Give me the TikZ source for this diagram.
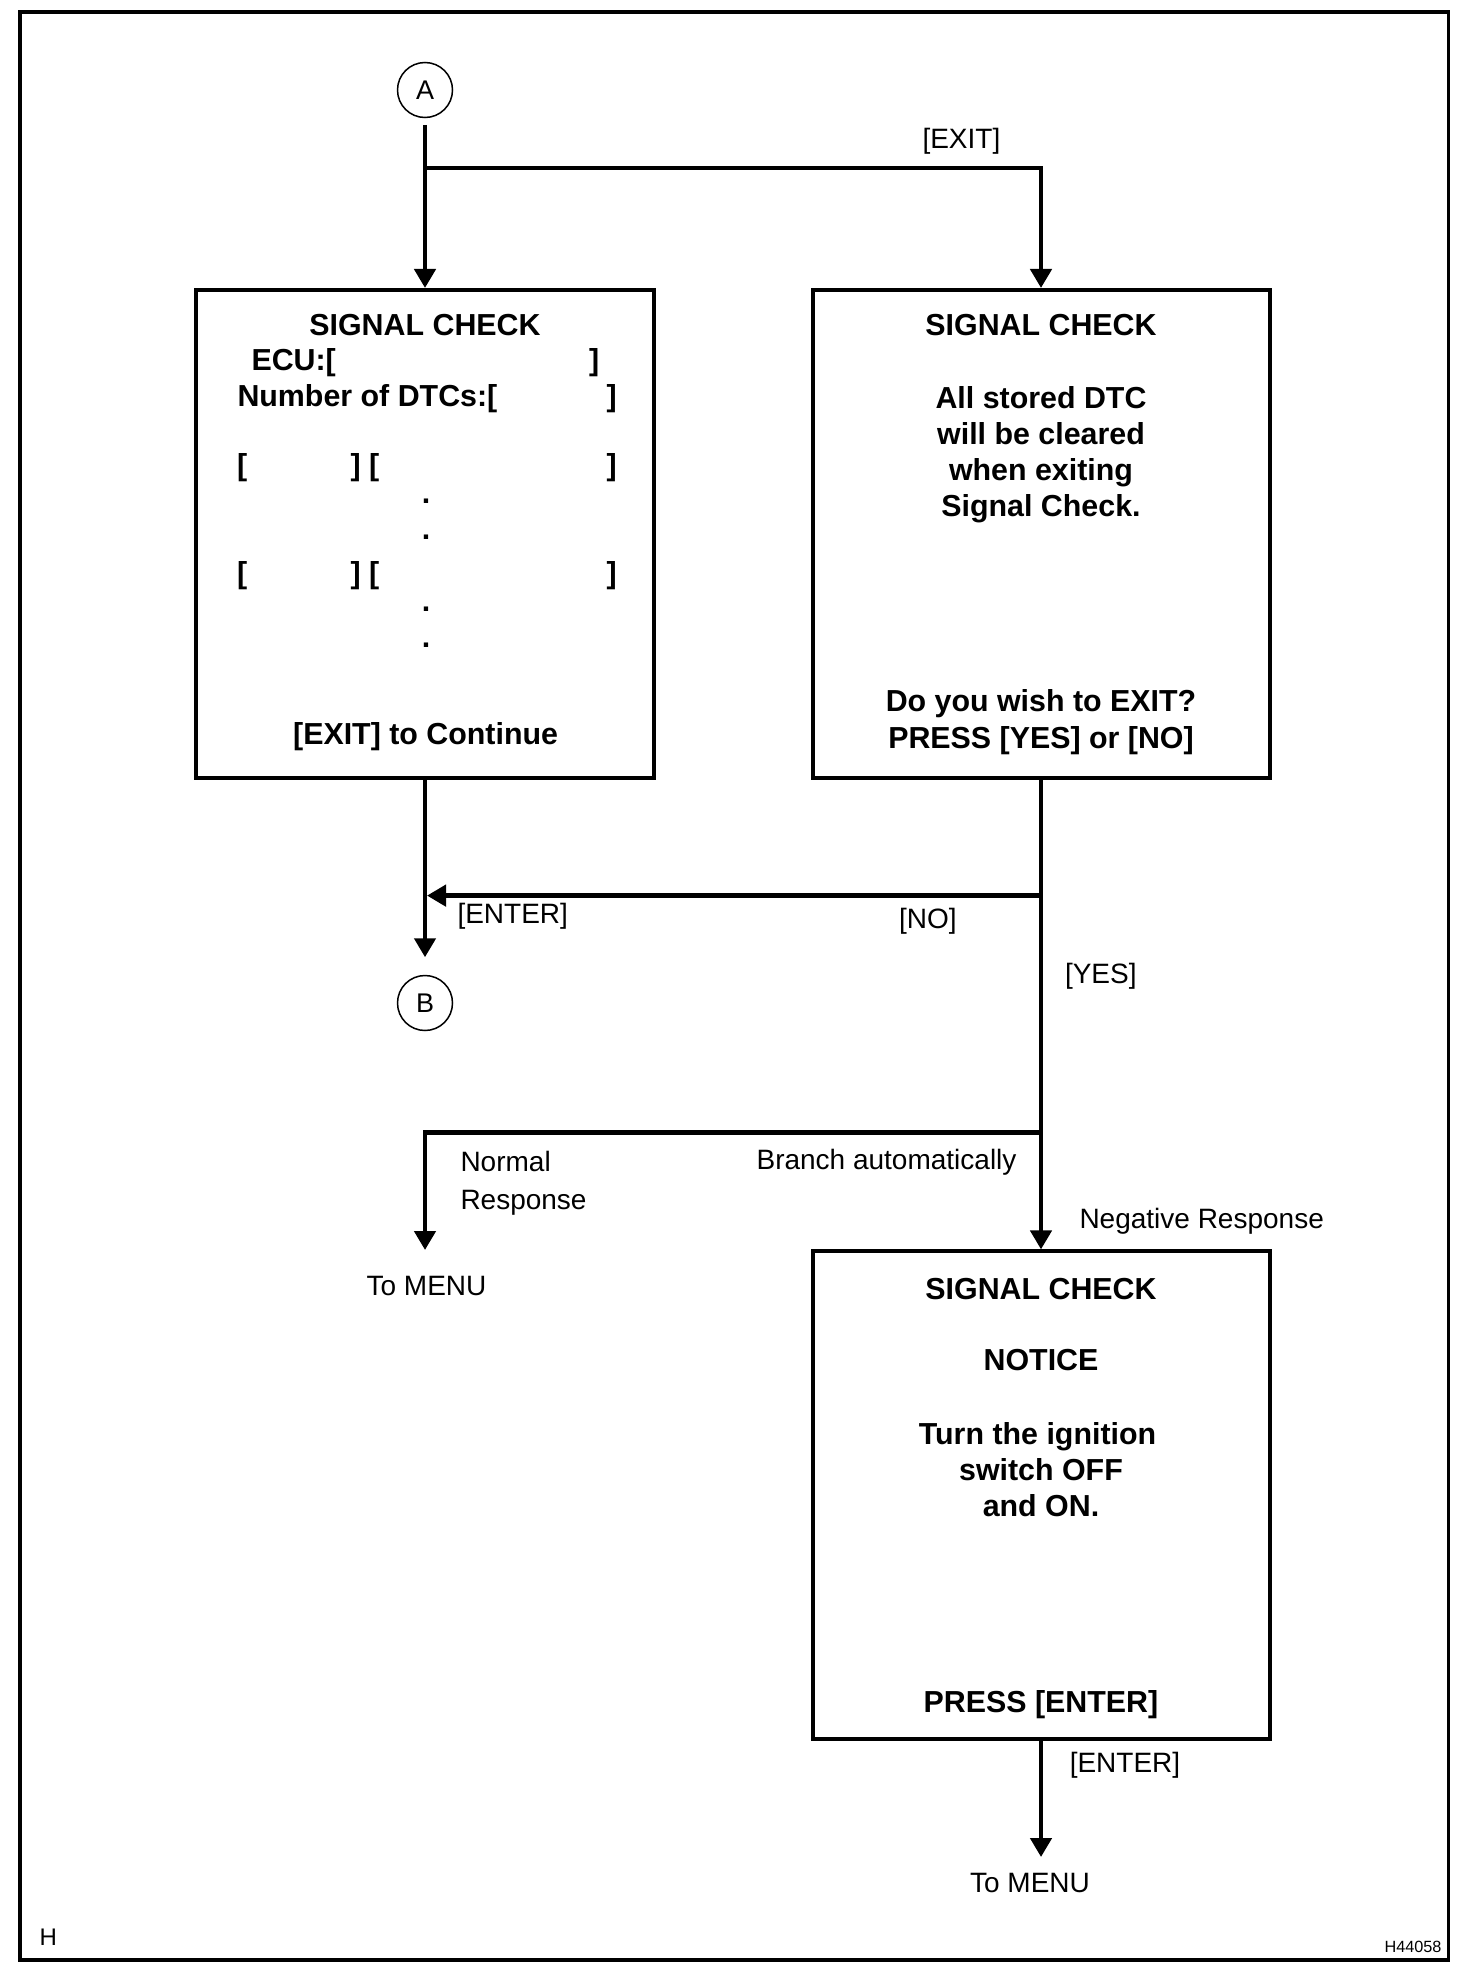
\documentclass[tikz,border=0pt]{standalone}
\usepackage{fontspec}
\setmainfont{Liberation Sans}
\usetikzlibrary{arrows.meta}
\newcommand\boldtxt{\fontsize{12.15}{14.5}\selectfont\bfseries}
\newcommand\regtxt{\fontsize{11.2}{13.4}\selectfont}
\newcommand\circtxt{\fontsize{10.8}{12}\selectfont}
\newcommand\htxt{\fontsize{9.6}{11}\selectfont}
\newcommand\tinytxt{\fontsize{6.5}{8}\selectfont}
\begin{document}
\begin{tikzpicture}[x=0.4pt,y=-0.4pt,
  bt/.style={font=\boldtxt, anchor=base, inner sep=0pt},
  btw/.style={font=\boldtxt, anchor=base west, inner sep=0pt},
  rt/.style={font=\regtxt, anchor=base, inner sep=0pt},
  rtw/.style={font=\regtxt, anchor=base west, inner sep=0pt},
  rte/.style={font=\regtxt, anchor=base east, inner sep=0pt},
  screen/.style={draw, line width=1.6pt, minimum width=182.8pt, minimum height=195.2pt, inner sep=0pt},
  circ/.style={draw, circle, line width=0.6pt, minimum size=22pt, inner sep=0pt, font=\circtxt},
  conn/.style={line width=1.8pt, -{Triangle[width=8.4pt,length=7.6pt]}},
  ]
\useasboundingbox (0,0) rectangle (1472,1986);
\draw[line width=1.5pt] (20,12) rectangle (1448.5,1960);

% nodes
\node[circ] (A) at (425,90) {A};
\node[screen] (b1) at (425,534) {};
\node[screen] (b2) at (1041,534) {};
\node[screen] (b3) at (1041,1495.4) {};
\node[circ] (B) at (425,1003) {B};

% box 1 text
\node[bt] (b1t1) at (425,335) {SIGNAL CHECK};
\node[btw] (b1t2) at (251,370.5) {ECU:[};
\node[btw] (b1t2r) at (588.5,370.5) {]};
\node[btw] (b1t3) at (237,406.5) {Number of DTCs:[};
\node[btw] (b1t3r) at (606,406.5) {]};
\node[btw] (b1r1a) at (236.5,475) {[};
\node[btw] (b1r1b) at (350,475) {] [};
\node[btw] (b1r1c) at (606,475) {]};
\node[bt] (b1d1) at (426,503.3) {.};
\node[bt] (b1d2) at (426,539) {.};
\node[btw] (b1r2a) at (236.5,583.6) {[};
\node[btw] (b1r2b) at (350,583.6) {] [};
\node[btw] (b1r2c) at (606,583.6) {]};
\node[bt] (b1d3) at (426,611.7) {.};
\node[bt] (b1d4) at (426,647.3) {.};
\node[bt] (b1t4) at (425.6,744) {[EXIT] to Continue};

% box 2 text
\node[bt] (b2t1) at (1041,335) {SIGNAL CHECK};
\node[bt] (b2t2) at (1041,408) {All stored DTC};
\node[bt] (b2t3) at (1041,444.3) {will be cleared};
\node[bt] (b2t4) at (1041,480.6) {when exiting};
\node[bt] (b2t5) at (1041,516.9) {Signal Check.};
\node[bt] (b2t6) at (1041,711.5) {Do you wish to EXIT?};
\node[bt] (b2t7) at (1041,748) {PRESS [YES] or [NO]};

% box 3 text
\node[bt] (b3t1) at (1041,1299) {SIGNAL CHECK};
\node[bt] (b3t2) at (1041,1370.7) {NOTICE};
\node[bt] (b3t3) at (1037.5,1444) {Turn the ignition};
\node[bt] (b3t4) at (1041,1480) {switch OFF};
\node[bt] (b3t5) at (1041,1516) {and ON.};
\node[bt] (b3t6) at (1041,1712) {PRESS [ENTER]};

% coordinates
\coordinate (jA) at (425,168);
\coordinate (jNO) at (1041,895.6);
\coordinate (eNO) at (427,895.6);
\coordinate (jBr) at (1041,1132.5);
\coordinate (eNorm) at (425,1250);
\coordinate (eMenu) at (1041,1857);

% connectors
\draw[conn, shorten <=2.6pt] (A) -- (b1);
\draw[conn] (jA) -| (b2.north);
\draw[conn, shorten >=7pt] (b1) -- (B);
\draw[conn] (b2) -- (b3);
\draw[conn] (jNO) -- (eNO);
\draw[conn] (jBr) -| (eNorm);
\draw[conn] (b3) -- (eMenu);

% labels
\node[rt] (lExit) at (961.4,148) {[EXIT]};
\node[rtw] (lEnter) at (457,923) {[ENTER]};
\node[rt] (lNo) at (927.8,928.4) {[NO]};
\node[rt] (lYes) at (1100.8,983) {[YES]};
\node[rtw] (lNorm1) at (460,1171.3) {Normal};
\node[rtw] (lNorm2) at (460,1209) {Response};
\node[rte] (lBranch) at (1017,1169) {Branch automatically};
\node[rtw] (lNeg) at (1079,1228) {Negative Response};
\node[rt] (lMenu1) at (426.5,1295) {To MENU};
\node[rt] (lEnter2) at (1125,1772) {[ENTER]};
\node[rt] (lMenu2) at (1030,1892.6) {To MENU};
\node[font=\htxt, anchor=base, inner sep=0pt] (lH) at (48.3,1945) {H};
\node[font=\tinytxt, anchor=base east, inner sep=0pt] (lCode) at (1442,1952.7) {H44058};
\end{tikzpicture}
\end{document}
